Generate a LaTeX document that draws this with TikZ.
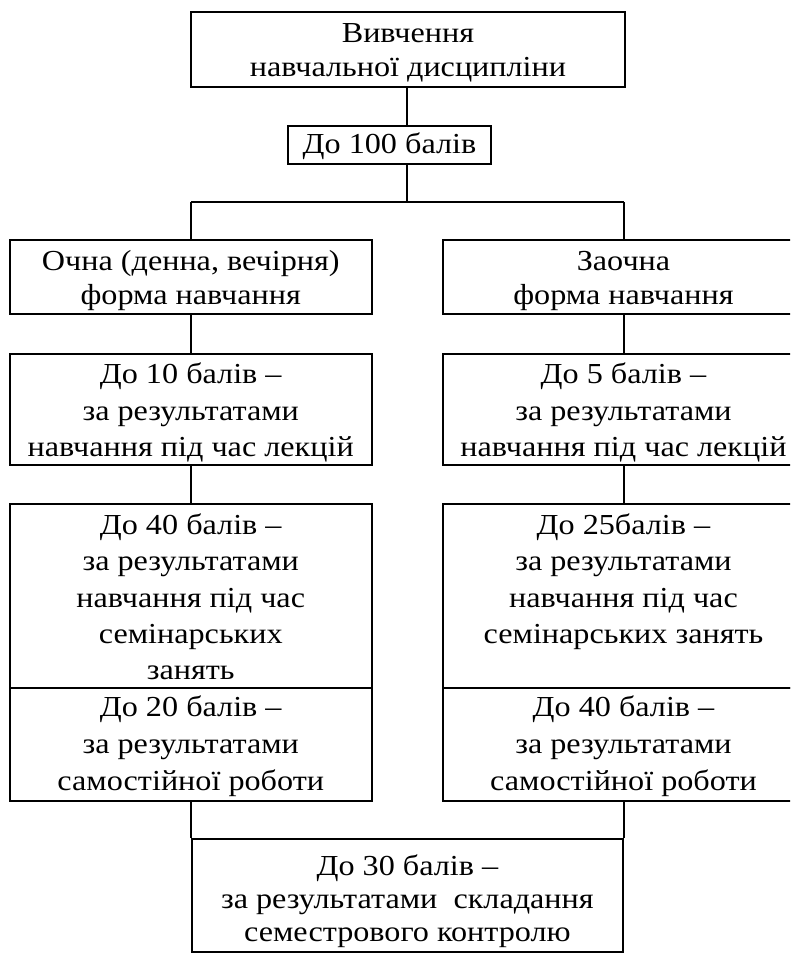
\documentclass[tikz,border=0pt]{standalone}
\usepackage{fontspec}
\setmainfont{Liberation Serif}[FakeStretch=1.11]
\newcommand{\tstr}[1]{\rule{0pt}{#1pt}}
\newcommand{\bstr}[1]{\rule[-#1pt]{0pt}{#1pt}}
\tikzset{
  bx/.style={draw, line width=2pt, rectangle, inner sep=0pt, align=center},
  wL/.style={minimum width=361.5pt},
  conn/.style={line width=2pt},
}
\newcommand{\fs}[1]{\fontsize{29}{#1}\selectfont}
\begin{document}
\begin{tikzpicture}[x=1pt,y=-1pt]
\useasboundingbox (0,0) rectangle (790,980);
\clip (0,0) rectangle (790,980);
\node[bx, minimum width=434pt, minimum height=74.4pt, font=\fs{34.4}] (top) at (408,49.5)
  {\tstr{30}Вивчення\\навчальної дисципліни\bstr{10}};
\node[bx, minimum width=202.4pt, minimum height=38.6pt, font=\fs{34}] (b100) at (389.5,145)
  {\tstr{27.6}До 100 балів\bstr{11}};
\coordinate (sp) at (407.3,202.3);
\coordinate (spL) at (190.75,202.3);
\coordinate (spR) at (623.5,202.3);
% left column
\node[bx, wL, minimum height=74pt, font=\fs{33.3}] (L1) at (190.75,277)
  {\tstr{30.7}Очна (денна, вечірня)\\форма навчання\bstr{10}};
\node[bx, wL, minimum height=111pt, font=\fs{36.7}] (L2) at (190.75,409.5)
  {\tstr{29.3}До 10 балів –\\за результатами\\навчання під час лекцій\bstr{8.3}};
\node[bx, wL, minimum height=184.3pt, font=\fs{36.4}] (L3) at (190.75,596.15)
  {\tstr{30.3}До 40 балів –\\за результатами\\навчання під час\\семінарських\\занять\bstr{8.3}};
\node[bx, wL, minimum height=113pt, font=\fs{36.7}] (L4) at (190.75,744.8)
  {\tstr{28.7}До 20 балів –\\за результатами\\самостійної роботи\bstr{11}};
% right column
\node[bx, wL, minimum height=74pt, font=\fs{33.3}] (R1) at (623.5,277)
  {\tstr{30.7}Заочна\\форма навчання\bstr{10}};
\node[bx, wL, minimum height=111pt, font=\fs{36.7}] (R2) at (623.5,409.5)
  {\tstr{29.3}До 5 балів –\\за результатами\\навчання під час лекцій\bstr{8.3}};
\node[bx, wL, minimum height=184.3pt, font=\fs{36.4}] (R3) at (623.5,596.15)
  {\tstr{30.3}До 25балів –\\за результатами\\навчання під час\\семінарських занять\\\bstr{8.3}};
\node[bx, wL, minimum height=113pt, font=\fs{36.7}] (R4) at (623.5,744.8)
  {\tstr{28.7}До 40 балів –\\за результатами\\самостійної роботи\bstr{11}};
% bottom
\node[bx, minimum width=431.8pt, minimum height=112.7pt, font=\fs{33.3}] (bot) at (407.4,895.35)
  {\tstr{36}До 30 балів –\\за результатами\ \ складання\\семестрового контролю\bstr{10}};
% connectors
\draw[conn] (top.south -| sp) -- (b100.north -| sp);
\draw[conn] (b100.south -| sp) -- (sp);
\draw[conn] (spL) -- (spR);
\draw[conn] (spL) -- (L1.north);
\draw[conn] (spR) -- (R1.north);
\draw[conn] (L1.south) -- (L2.north);
\draw[conn] (R1.south) -- (R2.north);
\draw[conn] (L2.south) -- (L3.north);
\draw[conn] (R2.south) -- (R3.north);
\draw[conn] (L4.south) -- (L4.south |- bot.north);
\draw[conn] (R4.south) -- (R4.south |- bot.north);
\end{tikzpicture}
\end{document}
